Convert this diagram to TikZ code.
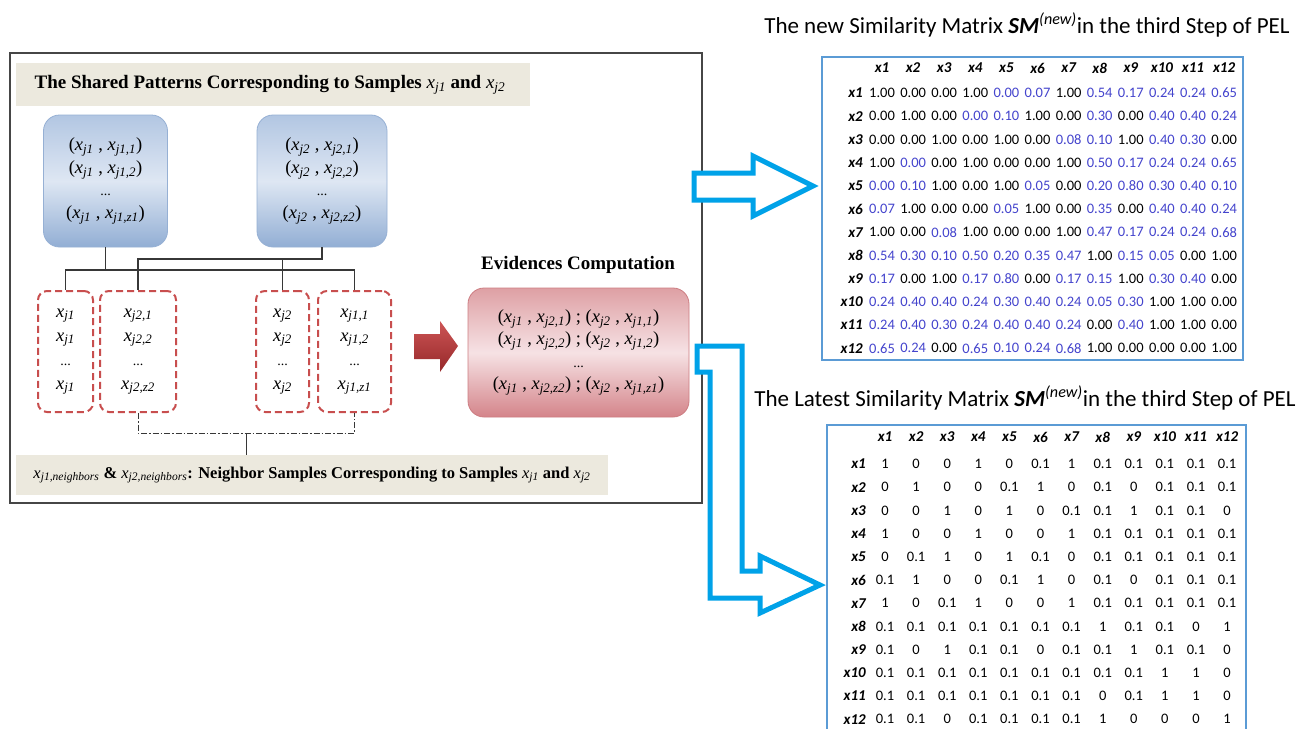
\documentclass[tikz,border=0pt]{standalone}
\usepackage{fontspec}
\setmainfont{Liberation Serif}
\newfontfamily\calfont{Carlito}
\usetikzlibrary{calc}
\definecolor{beige}{RGB}{236,233,222}
\definecolor{panelgray}{RGB}{70,70,70}
\definecolor{conngray}{RGB}{55,55,55}
\definecolor{bbtop}{RGB}{178,198,226}
\definecolor{bbmid}{RGB}{222,231,243}
\definecolor{bbbot}{RGB}{146,174,212}
\definecolor{bboxedge}{RGB}{150,176,212}
\definecolor{dred}{RGB}{200,78,78}
\definecolor{pktop}{RGB}{222,160,164}
\definecolor{pkmid}{RGB}{246,226,228}
\definecolor{pkbot}{RGB}{212,132,138}
\definecolor{pkedge}{RGB}{205,125,130}
\definecolor{artop}{RGB}{205,85,85}
\definecolor{arbot}{RGB}{150,40,42}
\definecolor{arblue}{RGB}{0,162,232}
\definecolor{mborder}{RGB}{91,155,213}
\definecolor{valblue}{RGB}{68,68,205}
\newcommand\xv[1]{{\normalfont\itshape x\textsubscript{#1}}}
\newcommand\bv[1]{\textcolor{valblue}{#1}}
\newcommand\dts{{\fontsize{14}{14}\selectfont ...}}
\begin{document}
\begin{tikzpicture}[x=1pt,y=-1pt,
  panel/.style={draw=panelgray,line width=1.3pt},
  bbox/.style={rounded corners=16pt,draw=bboxedge,line width=0.8pt,top color=bbtop,bottom color=bbbot,middle color=bbmid,align=center,inner sep=0pt,font=\fontsize{18.5}{22.5}\selectfont},
  dbox/.style={rounded corners=9pt,draw=dred,line width=2pt,dash pattern=on 7pt off 4pt,align=center,inner sep=0pt,font=\fontsize{18.5}{24}\selectfont},
  pbox/.style={rounded corners=16pt,draw=pkedge,line width=0.8pt,top color=pktop,bottom color=pkbot,middle color=pkmid,align=center,inner sep=0pt,font=\fontsize{18.5}{22.5}\selectfont},
  conn/.style={draw=conngray,line width=1.3pt},
  brk/.style={draw=conngray,line width=1pt,dash pattern=on 6pt off 2pt on 1.5pt off 2pt},
  hollow/.style={draw=arblue,line width=5pt,fill=white,line join=miter},
  mbox/.style={draw=mborder,line width=1.5pt},
  mtitle/.style={font=\calfont\fontsize{23}{25}\selectfont,inner sep=0pt},
  mhead/.style={font=\calfont\bfseries\itshape\fontsize{15}{16}\selectfont,inner sep=0pt},
  mval/.style={font=\calfont\fontsize{14.5}{15}\selectfont,inner sep=0pt},
  ltitle/.style={font=\bfseries\fontsize{19}{22}\selectfont,inner sep=0pt}
]
\useasboundingbox (0,0) rectangle (1314,728);
\fill[white] (0,0) rectangle (1314,728);

% ---- left panel ----
\draw[panel] (10,53) rectangle (702,503);
\fill[beige] (16,63) rectangle (530,106);
\node[ltitle] (ttl) at (270,84.5) {The Shared Patterns Corresponding to Samples \xv{j1} and \xv{j2}};

\node[bbox,minimum width=124pt,minimum height=132pt] (b1) at (105.5,181)
  {(\xv{j1} , \xv{j1,1})\\(\xv{j1} , \xv{j1,2})\\\dts\\(\xv{j1} , \xv{j1,z1})};
\node[bbox,minimum width=130pt,minimum height=132pt] (b2) at (322,181)
  {(\xv{j2} , \xv{j2,1})\\(\xv{j2} , \xv{j2,2})\\\dts\\(\xv{j2} , \xv{j2,z2})};

\node[dbox,minimum width=55pt,minimum height=121pt] (d1) at (65.5,351.5)
  {\xv{j1}\\\xv{j1}\\\dts\\\xv{j1}};
\node[dbox,minimum width=76pt,minimum height=121pt] (d2) at (138,351.5)
  {\xv{j2,1}\\\xv{j2,2}\\\dts\\\xv{j2,z2}};
\node[dbox,minimum width=53pt,minimum height=121pt] (d3) at (282.5,351.5)
  {\xv{j2}\\\xv{j2}\\\dts\\\xv{j2}};
\node[dbox,minimum width=73pt,minimum height=121pt] (d4) at (354.5,351.5)
  {\xv{j1,1}\\\xv{j1,2}\\\dts\\\xv{j1,z1}};

\coordinate (h1) at (0,270);
\coordinate (h2) at (0,259);
\coordinate (h3) at (0,433);
\draw[conn] (b1.south) -- (b1.south |- h1);
\draw[conn] (d1.north) -- (d1.north |- h1) -- (d4.north |- h1) -- (d4.north);
\draw[conn] (d2.north) -- (d2.north |- h2) -- (b2.south |- h2) -- (b2.south);
\draw[conn] (d3.north) -- (d3.north |- h2);

\fill[beige] (16,455) rectangle (608,495);
\node[font=\bfseries\fontsize{16.5}{18}\selectfont,inner sep=0pt] (nb) at (312,475)
  {\xv{j1,neighbors} \& \xv{j2,neighbors}: Neighbor Samples Corresponding to Samples \xv{j1} and \xv{j2}};
\coordinate (nbt) at (0,455);
\draw[brk] (d2.south) -- (d2.south |- h3) -- (d4.south |- h3) -- (d4.south);
\coordinate (bm) at ($(d2.south |- h3)!0.5!(d4.south |- h3)$);
\draw[conn,line width=1pt] (bm) -- (bm |- nbt);

% red arrow
\path[top color=artop,bottom color=arbot] (414,334) -- (440,334) -- (440,321) -- (458,346) -- (440,372) -- (440,359) -- (414,359) -- cycle;

\node[ltitle] (evt) at (578,265) {Evidences Computation};
\node[pbox,minimum width=221pt,minimum height=129pt] (ev) at (578.5,352.5)
  {(\xv{j1} , \xv{j2,1}) ; (\xv{j2} , \xv{j1,1})\\(\xv{j1} , \xv{j2,2}) ; (\xv{j2} , \xv{j1,2})\\\dts\\(\xv{j1} , \xv{j2,z2}) ; (\xv{j2} , \xv{j1,z1})};

% ---- hollow arrows ----
\path[hollow] (694,173) -- (753,173) -- (753,156) -- (813,186) -- (753,216) -- (753,200) -- (694,200) -- cycle;
\path[hollow] (697,346) -- (742,346) -- (742,571) -- (760,571) -- (760,556) -- (820,585) -- (760,613) -- (760,598) -- (710,598) -- (710,372) -- (697,372) -- cycle;

% ---- top matrix ----
\node[mtitle] (tt1) at (1027,25) {The new Similarity Matrix \textbf{\textit{SM}}\textsuperscript{\textit{(new)}}in the third Step of PEL};
\node[mbox,minimum width=421pt,minimum height=303pt,inner sep=0pt] (mt) at (1032.5,208.5) {};
\foreach \c in {1,...,12} {
  \node[mhead] (th\c) at ({882+(\c-1)*31.1},68) {x\c};
  \node[mhead,anchor=east] (tr\c) at (863,{93+(\c-1)*23.2}) {x\c};
}
\foreach \row [count=\r] in {%
 {1.00,0.00,0.00,1.00,\bv{0.00},\bv{0.07},1.00,\bv{0.54},\bv{0.17},\bv{0.24},\bv{0.24},\bv{0.65}},%
 {0.00,1.00,0.00,\bv{0.00},\bv{0.10},1.00,0.00,\bv{0.30},0.00,\bv{0.40},\bv{0.40},\bv{0.24}},%
 {0.00,0.00,1.00,0.00,1.00,0.00,\bv{0.08},\bv{0.10},1.00,\bv{0.40},\bv{0.30},0.00},%
 {1.00,\bv{0.00},0.00,1.00,0.00,0.00,1.00,\bv{0.50},\bv{0.17},\bv{0.24},\bv{0.24},\bv{0.65}},%
 {\bv{0.00},\bv{0.10},1.00,0.00,1.00,\bv{0.05},0.00,\bv{0.20},\bv{0.80},\bv{0.30},\bv{0.40},\bv{0.10}},%
 {\bv{0.07},1.00,0.00,0.00,\bv{0.05},1.00,0.00,\bv{0.35},0.00,\bv{0.40},\bv{0.40},\bv{0.24}},%
 {1.00,0.00,\bv{0.08},1.00,0.00,0.00,1.00,\bv{0.47},\bv{0.17},\bv{0.24},\bv{0.24},\bv{0.68}},%
 {\bv{0.54},\bv{0.30},\bv{0.10},\bv{0.50},\bv{0.20},\bv{0.35},\bv{0.47},1.00,\bv{0.15},\bv{0.05},0.00,1.00},%
 {\bv{0.17},0.00,1.00,\bv{0.17},\bv{0.80},0.00,\bv{0.17},\bv{0.15},1.00,\bv{0.30},\bv{0.40},0.00},%
 {\bv{0.24},\bv{0.40},\bv{0.40},\bv{0.24},\bv{0.30},\bv{0.40},\bv{0.24},\bv{0.05},\bv{0.30},1.00,1.00,0.00},%
 {\bv{0.24},\bv{0.40},\bv{0.30},\bv{0.24},\bv{0.40},\bv{0.40},\bv{0.24},0.00,\bv{0.40},1.00,1.00,0.00},%
 {\bv{0.65},\bv{0.24},0.00,\bv{0.65},\bv{0.10},\bv{0.24},\bv{0.68},1.00,0.00,0.00,0.00,1.00}}{%
  \foreach \v [count=\c] in \row {
    \node[mval] (t\r-\c) at ({882+(\c-1)*31.1},{93+(\r-1)*23.2}) {\v};
  }
}

% ---- bottom matrix ----
\node[mtitle] (tt2) at (1025,398) {The Latest Similarity Matrix \textbf{\textit{SM}}\textsuperscript{\textit{(new)}}in the third Step of PEL};
\coordinate (mb1) at (827,730);
\coordinate (mb2) at (827,425);
\coordinate (mb3) at (1246,425);
\coordinate (mb4) at (1246,730);
\draw[mbox] (mb1) -- (mb2) -- (mb3) -- (mb4);
\foreach \c in {1,...,12} {
  \node[mhead] (bh\c) at ({885+(\c-1)*31.1},437) {x\c};
  \node[mhead,anchor=east] (br\c) at (866,{464+(\c-1)*23.2}) {x\c};
}
\foreach \row [count=\r] in {%
 {1,0,0,1,0,0.1,1,0.1,0.1,0.1,0.1,0.1},%
 {0,1,0,0,0.1,1,0,0.1,0,0.1,0.1,0.1},%
 {0,0,1,0,1,0,0.1,0.1,1,0.1,0.1,0},%
 {1,0,0,1,0,0,1,0.1,0.1,0.1,0.1,0.1},%
 {0,0.1,1,0,1,0.1,0,0.1,0.1,0.1,0.1,0.1},%
 {0.1,1,0,0,0.1,1,0,0.1,0,0.1,0.1,0.1},%
 {1,0,0.1,1,0,0,1,0.1,0.1,0.1,0.1,0.1},%
 {0.1,0.1,0.1,0.1,0.1,0.1,0.1,1,0.1,0.1,0,1},%
 {0.1,0,1,0.1,0.1,0,0.1,0.1,1,0.1,0.1,0},%
 {0.1,0.1,0.1,0.1,0.1,0.1,0.1,0.1,0.1,1,1,0},%
 {0.1,0.1,0.1,0.1,0.1,0.1,0.1,0,0.1,1,1,0},%
 {0.1,0.1,0,0.1,0.1,0.1,0.1,1,0,0,0,1}}{%
  \foreach \v [count=\c] in \row {
    \node[mval] (m\r-\c) at ({885+(\c-1)*31.1},{464+(\r-1)*23.2}) {\v};
  }
}
\end{tikzpicture}
\end{document}
